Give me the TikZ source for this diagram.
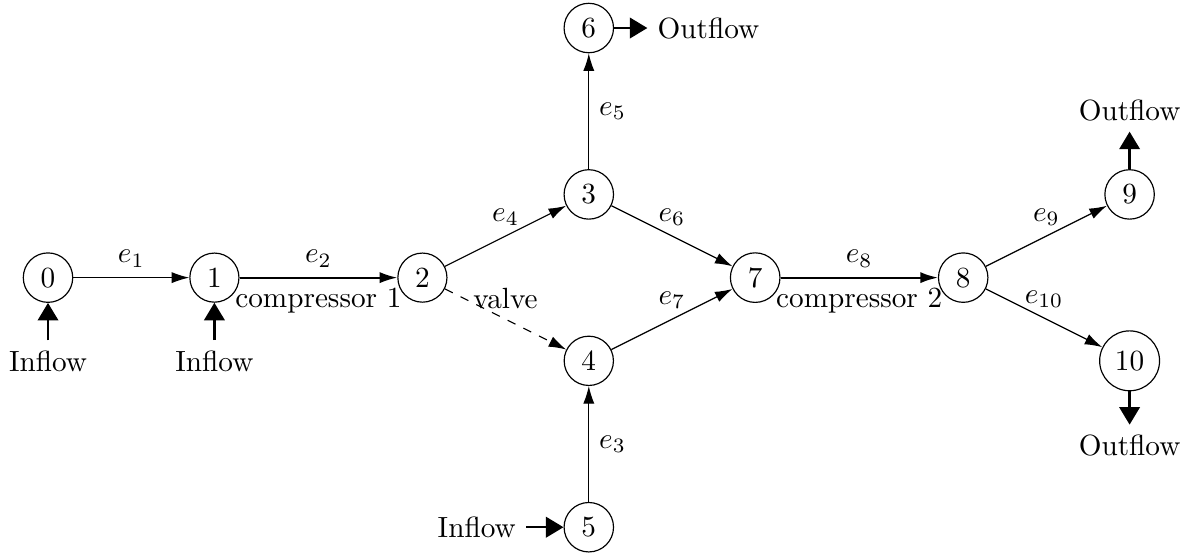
\documentclass[tikz,border=0pt]{standalone}
\usetikzlibrary{arrows.meta,positioning}
\begin{document}
\begin{tikzpicture}[
  v/.style={circle,draw,inner sep=3pt},
  edge/.style={-{Latex[length=6pt,width=3.8pt]}},
  comp/.style={edge,semithick},
  flow/.style={thick,-{Triangle[length=6pt,width=7pt]}}
]
\useasboundingbox (-0.577,-3.325) rectangle (13.726,3.337);
\node[v] (n0) at (0,0) {0};
\node[v] (n1) at (2,0) {1};
\node[v] (n2) at (4.5,0) {2};
\node[v] (n3) at (6.5,1) {3};
\node[v] (n4) at (6.5,-1) {4};
\node[v] (n5) at (6.5,-3) {5};
\node[v] (n6) at (6.5,3) {6};
\node[v] (n7) at (8.5,0) {7};
\node[v] (n8) at (11,0) {8};
\node[v] (n9) at (13,1) {9};
\node[v] (n10) at (13,-1) {10};

\node[below=0.45cm of n0] (i0) {Inflow};
\node[below=0.45cm of n1] (i1) {Inflow};
\node[left=0.45cm of n5] (i5) {Inflow};
\node[right=0.4cm of n6] (o6) {Outflow};
\node[above=0.45cm of n9] (o9) {Outflow};
\node[below=0.4cm of n10] (o10) {Outflow};

\draw[edge] (n0) -- node[above]{$e_1$} (n1);
\draw[comp] (n1) -- node[above]{$e_2$} node[below]{compressor 1} (n2);
\draw[edge] (n5) -- node[right]{$e_3$} (n4);
\draw[edge] (n2) -- node[above]{$e_4$} (n3);
\draw[edge] (n3) -- node[right]{$e_5$} (n6);
\draw[edge] (n3) -- node[above]{$e_6$} (n7);
\draw[edge] (n4) -- node[above]{$e_7$} (n7);
\draw[comp] (n7) -- node[above]{$e_8$} node[below]{compressor 2} (n8);
\draw[edge] (n8) -- node[above]{$e_9$} (n9);
\draw[edge] (n8) -- node[above]{$e_{10}$} (n10);
\draw[edge,dashed] (n2) -- node[above]{valve} (n4);

\draw[flow] (i0) -- (n0);
\draw[flow] (i1) -- (n1);
\draw[flow] (i5) -- (n5);
\draw[flow] (n6) -- (o6);
\draw[flow] (n9) -- (o9);
\draw[flow] (n10) -- (o10);
\end{tikzpicture}
\end{document}
